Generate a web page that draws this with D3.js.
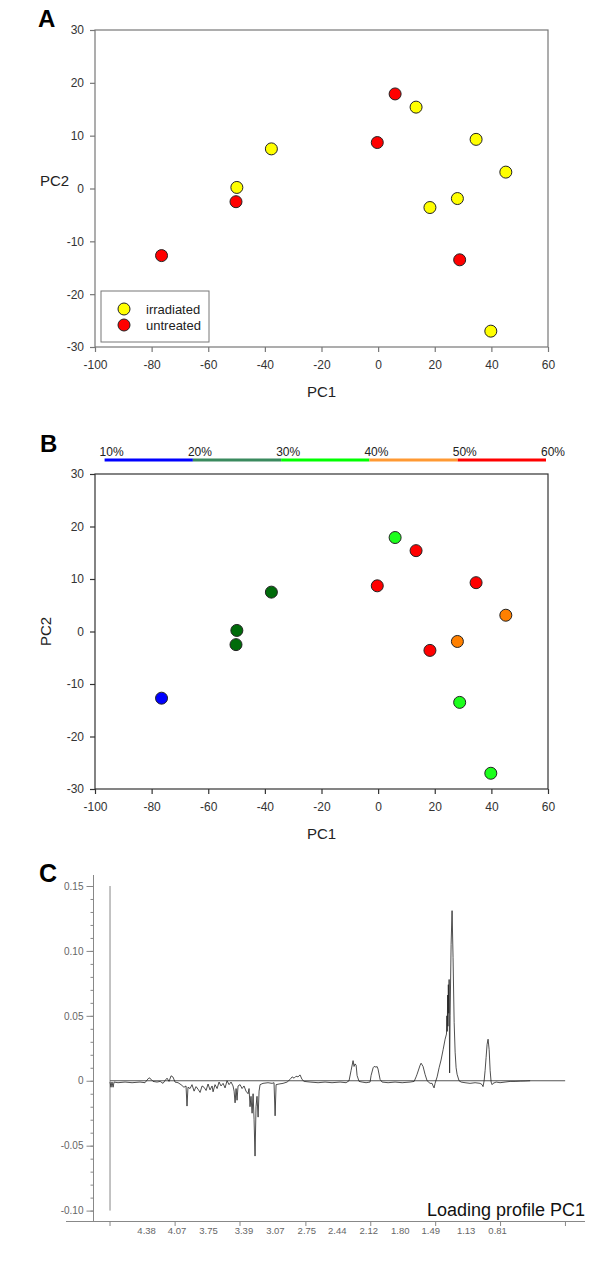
<!DOCTYPE html>
<html><head><meta charset="utf-8">
<script src="https://cdn.jsdelivr.net/npm/d3@7"></script>
<style>
body{margin:0;background:#fff}
svg{display:block}
text{font-family:'Liberation Sans',Arial,sans-serif}
</style>
</head><body>
<svg id="chart" width="600" height="1263"></svg>
<script>
// ---------- DATA ----------
const pc1 = [6.0, 13.4, -37.7, -0.3, 34.6, 45.1, -49.9, -50.2, 18.3, 28.0, -76.5, 28.8, 39.8];
const pc2 = [17.9, 15.4, 7.5, 8.7, 9.3, 3.1, 0.2, -2.5, -3.6, -1.9, -12.7, -13.5, -27.0];
const treatment = ['untreated','irradiated','irradiated','untreated','irradiated','irradiated',
                   'irradiated','untreated','irradiated','irradiated','untreated','untreated','irradiated'];
const percentClass = [35, 55, 25, 55, 55, 45, 25, 25, 55, 45, 15, 35, 35];
const legendLabels = ['irradiated','untreated'];
const xTicksPCA = [-100,-80,-60,-40,-20,0,20,40,60];
const yTicksPCA = [-30,-20,-10,0,10,20,30];
const pctStops = [10,20,30,40,50,60];
const pctLabels = ['10%','20%','30%','40%','50%','60%'];

// loading profile PC1 (ppm, loading)
const specPpm = [4.752,4.742,4.732,4.721,4.711,4.671,4.599,4.528,4.447,4.396,4.376,4.355,4.335,4.315,4.274,4.242,4.213,4.192,4.172,4.152,4.131,4.111,4.091,4.060,4.030,4.000,3.979,3.969,3.959,
  3.938,3.918,3.897,3.877,3.857,3.836,3.816,3.796,3.775,3.755,3.735,3.714,3.704,3.684,3.663,3.643,3.623,3.602,3.582,3.562,3.541,3.521,3.501,
  3.490,3.480,3.470,3.460,3.450,3.429,3.409,3.389,3.369,3.348,3.338,3.328,3.318,3.307,3.297,3.287,3.277,3.267,3.257,3.246,3.236,3.226,3.196,3.145,3.104,3.084,3.073,3.063,3.033,2.992,2.951,2.921,2.900,2.880,2.860,2.840,2.819,2.799,2.778,2.717,2.636,2.565,2.494,2.412,2.351,2.321,2.300,2.280,2.270,2.260,2.249,2.239,2.219,2.188,2.148,2.107,2.097,2.076,2.066,2.046,2.036,2.026,2.005,1.985,1.924,1.853,1.781,1.700,1.659,1.639,1.629,1.598,1.588,1.568,1.548,1.527,1.497,1.476,1.466,1.456,1.446,1.425,1.405,1.385,1.364,1.344,
  1.330,1.326,1.322,1.318,1.315,1.311,1.307,1.303,1.298,1.293,1.283,1.273,1.263,1.252,1.242,1.232,1.222,1.202,1.181,1.141,1.090,1.039,0.988,0.968,0.958,0.947,0.937,0.927,0.917,0.907,0.896,0.886,0.876,0.866,0.856,0.825,0.785,0.734,0.683,0.632,0.581,0.530,0.479];
const specLoad = [-0.001,-0.005,-0.001,-0.005,-0.001,-0.0015,-0.001,-0.0015,-0.001,-0.0015,0.0005,0.0023,0.0012,-0.0005,-0.001,-0.0005,-0.002,0.0002,0.002,-0.0005,0.0038,0.0028,-0.001,-0.0015,-0.003,-0.005,-0.004,-0.0195,-0.005,
  -0.006,-0.003,-0.008,-0.0045,-0.0065,-0.009,-0.004,-0.005,-0.0075,-0.0025,-0.007,-0.004,-0.0085,-0.003,-0.006,-0.001,-0.004,-0.002,-0.0055,0.000,-0.003,-0.001,-0.004,
  -0.008,-0.017,-0.006,-0.015,-0.004,-0.003,-0.006,-0.004,-0.008,-0.010,-0.006,-0.020,-0.012,-0.025,-0.010,-0.030,-0.058,-0.020,-0.012,-0.028,-0.008,-0.003,-0.002,-0.0015,-0.002,-0.0015,-0.027,-0.003,-0.0025,-0.002,-0.001,0.001,0.003,0.002,0.0035,0.003,0.0045,0.001,-0.0005,-0.001,-0.0015,-0.001,-0.0015,-0.001,-0.0015,0.000,0.008,0.0155,0.011,0.013,0.012,0.004,-0.0005,-0.001,-0.0015,-0.001,0.004,0.010,0.011,0.0105,0.011,0.009,0.001,-0.001,-0.0015,-0.001,-0.0015,-0.001,-0.0005,0.003,0.005,0.012,0.0135,0.011,0.005,0.000,-0.002,-0.002,-0.004,-0.0055,-0.002,0.003,0.010,0.016,0.024,0.032,
  0.036,0.050,0.038,0.066,0.042,0.074,0.052,0.078,0.006,0.050,0.105,0.131,0.095,0.045,0.022,0.010,0.005,0.000,-0.001,-0.0015,-0.002,-0.0015,-0.002,-0.003,-0.0045,0.000,0.008,0.018,0.028,0.032,0.024,0.008,-0.001,-0.003,-0.002,-0.001,-0.0015,-0.001,-0.0005,-0.0005,-0.0003,-0.0002,0.000];
const specStartPpm = 4.752;
const zeroLineEndPpm = 0.123;
const ppmTickLabels = ['4.38','4.07','3.75','3.39','3.07','2.75','2.44','2.12','1.80','1.49','1.13','0.81'];
const ppmTickMarks = [4.752,4.09,3.43,2.76,2.10,1.44,0.78,0.12];
const loadTicks = [-0.10,-0.05,0,0.05,0.10,0.15];
const loadTickLabels = ['-0.10','-0.05','0','0.05','0.10','0.15'];

// ---------- DRAW ----------
const svg = d3.select('#chart');
svg.append('rect').attr('width',600).attr('height',1263).attr('fill','#fff');

const colTreat = d3.scaleOrdinal(legendLabels, ['#ffff00','#ff0000']);
const colPct = d3.scaleThreshold([20,30,40,50], ['#0000ff','#006b0a','#1cff1c','#ff8000','#ff0000']);
const barColors = ['#0000ff','#3a8a5e','#00ff00','#ff9933','#ff0000'];
const fmtHyphen = d => String(d);

function pcaPanel(top, bottom, borderColor, rotatedY) {
  const x = d3.scaleLinear([-100,60],[95,548]);
  const y = d3.scaleLinear([-30,30],[bottom,top]);
  const g = svg.append('g');
  g.append('rect').attr('x',x(-100)).attr('y',y(30)).attr('width',x(60)-x(-100)).attr('height',y(-30)-y(30))
    .attr('fill','none').attr('stroke',borderColor).attr('stroke-width',1.2);
  const ax = g.append('g').attr('transform',`translate(0,${y(-30)})`)
    .call(d3.axisBottom(x).tickValues(xTicksPCA).tickSize(5).tickPadding(8).tickFormat(fmtHyphen));
  const ay = g.append('g').attr('transform',`translate(${x(-100)},0)`)
    .call(d3.axisLeft(y).tickValues(yTicksPCA).tickSize(5).tickPadding(6).tickFormat(fmtHyphen));
  [ax,ay].forEach(a=>{
    a.select('.domain').remove();
    a.selectAll('line').attr('stroke',borderColor).attr('stroke-width',1.2);
    a.selectAll('text').attr('font-size',12).attr('fill','#333').attr('font-family',"'Liberation Sans',Arial,sans-serif");
  });
  g.append('text').attr('x',(x(-100)+x(60))/2).attr('y',bottom+50).attr('text-anchor','middle')
    .attr('font-size',15).attr('fill','#222').text('PC1');
  if (rotatedY) {
    g.append('text').attr('transform',`translate(51,${(top+bottom)/2}) rotate(-90)`).attr('text-anchor','middle')
      .attr('font-size',15).attr('fill','#222').text('PC2');
  } else {
    g.append('text').attr('x',40).attr('y',186).attr('font-size',15).attr('fill','#222').text('PC2');
  }
  return {x,y,g};
}

// Panel A
const A = pcaPanel(30, 347, '#777', false);
svg.append('text').attr('x',38).attr('y',27).attr('font-size',24).attr('font-weight','bold').attr('fill','#000').text('A');
A.g.selectAll('circle.pt').data(pc1.map((v,i)=>({x:v,y:pc2[i],t:treatment[i]}))).join('circle')
  .attr('class','pt').attr('cx',d=>A.x(d.x)).attr('cy',d=>A.y(d.y)).attr('r',6)
  .attr('fill',d=>colTreat(d.t)).attr('stroke','#222').attr('stroke-width',1);
// legend
const lg = A.g.append('g');
lg.append('rect').attr('x',101).attr('y',291).attr('width',108).attr('height',51).attr('fill','#fff').attr('stroke','#777');
legendLabels.forEach((lab,i)=>{
  lg.append('circle').attr('cx',124).attr('cy',309+i*16).attr('r',6).attr('fill',colTreat(lab)).attr('stroke','#222');
  lg.append('text').attr('x',146).attr('y',313.5+i*16).attr('font-size',13).attr('fill','#222').text(lab);
});

// Panel B
const B = pcaPanel(474, 789, '#333', true);
svg.append('text').attr('x',40).attr('y',452).attr('font-size',24).attr('font-weight','bold').attr('fill','#000').text('B');
const pctX = d3.scaleLinear([10,60],[104.6,546]);
for (let i=0;i<pctStops.length-1;i++){
  svg.append('line').attr('x1',pctX(pctStops[i])).attr('x2',pctX(pctStops[i+1])).attr('y1',460).attr('y2',460)
    .attr('stroke',barColors[i]).attr('stroke-width',3);
}
pctStops.forEach((p,i)=>{
  svg.append('text').attr('x',pctX(p)-5).attr('y',456).attr('font-size',12).attr('fill','#222').text(pctLabels[i]);
});
B.g.selectAll('circle.pt').data(pc1.map((v,i)=>({x:v,y:pc2[i],p:percentClass[i]}))).join('circle')
  .attr('class','pt').attr('cx',d=>B.x(d.x)).attr('cy',d=>B.y(d.y)).attr('r',6)
  .attr('fill',d=>colPct(d.p)).attr('stroke','#222').attr('stroke-width',1);

// Panel C
svg.append('text').attr('x',39).attr('y',882).attr('font-size',25).attr('font-weight','bold').attr('fill','#000').text('C');
const xC = d3.scaleLinear([4.38,0.81],[146.6,497.6]);
const yC = d3.scaleLinear([-0.10,0.15],[1210.6,886]);
const gC = svg.append('g');
const narrow = "'Liberation Sans Narrow','Liberation Sans',Arial,sans-serif";
// y axis
gC.append('line').attr('x1',93.5).attr('x2',93.5).attr('y1',875).attr('y2',1221).attr('stroke','#888');
const yMinor = gC.append('g').attr('transform','translate(93.5,0)')
  .call(d3.axisLeft(yC).tickValues(d3.range(-10,16).map(v=>v/100)).tickSize(3).tickFormat(''));
yMinor.select('.domain').remove(); yMinor.selectAll('line').attr('stroke','#888');
const yMajor = gC.append('g').attr('transform','translate(93.5,0)')
  .call(d3.axisLeft(yC).tickValues(loadTicks).tickSize(7).tickPadding(3).tickFormat((d,i)=>loadTickLabels[i]));
yMajor.select('.domain').remove(); yMajor.selectAll('line').attr('stroke','#888');
yMajor.selectAll('text').attr('font-size',10).attr('fill','#666').attr('font-family',narrow);
// x axis
gC.append('line').attr('x1',66).attr('x2',585).attr('y1',1221.5).attr('y2',1221.5).attr('stroke','#888');
gC.selectAll('line.xt').data(ppmTickMarks).join('line').attr('class','xt')
  .attr('x1',d=>xC(d)).attr('x2',d=>xC(d)).attr('y1',1221.5).attr('y2',1226).attr('stroke','#888');
gC.selectAll('text.xl').data(ppmTickLabels).join('text').attr('class','xl')
  .attr('x',d=>xC(+d)).attr('y',1233.5).attr('text-anchor','middle').attr('font-size',9.5)
  .attr('fill','#666').attr('font-family',narrow).text(d=>d);
// start marker line and zero line
gC.append('line').attr('x1',xC(specStartPpm)).attr('x2',xC(specStartPpm)).attr('y1',yC(0.15)).attr('y2',yC(-0.10))
  .attr('stroke','#888');
gC.append('line').attr('x1',xC(specStartPpm)).attr('x2',xC(zeroLineEndPpm)).attr('y1',yC(0)).attr('y2',yC(0))
  .attr('stroke','#555');
// spectrum
const line = d3.line().x(d=>xC(d[0])).y(d=>yC(d[1]));
gC.append('path').datum(specPpm.map((p,i)=>[p,specLoad[i]])).attr('d',line)
  .attr('fill','none').attr('stroke','#222').attr('stroke-width',0.8);
gC.append('text').attr('x',585).attr('y',1216).attr('text-anchor','end').attr('font-size',18).attr('fill','#111')
  .text('Loading profile PC1');
</script>
</body></html>
